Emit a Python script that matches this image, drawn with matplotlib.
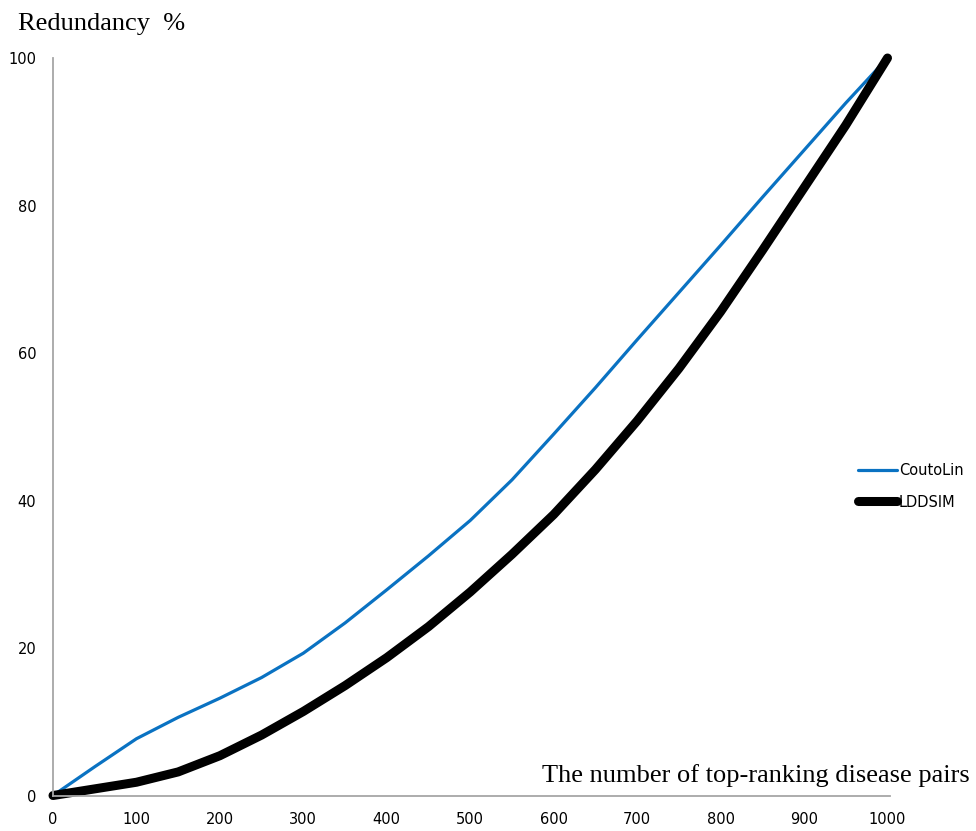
import matplotlib
matplotlib.use("Agg")
import matplotlib.pyplot as plt

# values
pairs = [0, 50, 100, 150, 200, 250, 300, 350, 400, 450, 500,
         550, 600, 650, 700, 750, 800, 850, 900, 950, 1000]
coutolin = [0, 3.9, 7.7, 10.6, 13.2, 16.0, 19.3, 23.4, 27.9, 32.5, 37.3,
            42.8, 49.0, 55.3, 61.8, 68.2, 74.6, 81.1, 87.5, 93.9, 100]
lddsim = [0, 0.9, 1.8, 3.2, 5.4, 8.2, 11.4, 14.9, 18.7, 22.9, 27.6,
          32.7, 38.1, 44.2, 50.8, 57.9, 65.6, 73.9, 82.4, 90.9, 100]

x_ticks = list(range(0, 1001, 100))
y_ticks = [0, 20, 40, 60, 80, 100]

fig = plt.figure(figsize=(9.76, 8.31), dpi=100)
ax = fig.add_axes([0.0543, 0.0427, 0.8576, 0.8875])

ax.plot(pairs, coutolin, color='#0A72C2', lw=2.3, label='CoutoLin',
        solid_capstyle='round', solid_joinstyle='round', clip_on=False)
ax.plot(pairs, lddsim, color='black', lw=6.5, label='LDDSIM',
        solid_capstyle='round', solid_joinstyle='round', clip_on=False)

ax.set_xlim(0, 1003)
ax.set_ylim(0, 100)
ax.set_xticks(x_ticks)
ax.set_yticks(y_ticks)
ax.tick_params(length=0, labelsize=10.5)
ax.tick_params(axis='x', pad=12)
ax.tick_params(axis='y', pad=12)

for s in ['top', 'right']:
    ax.spines[s].set_visible(False)
for s in ['left', 'bottom']:
    ax.spines[s].set_color('#A6A6A6')
    ax.spines[s].set_linewidth(1.3)

fig.legend(loc='center left', bbox_to_anchor=(0.879, 0.415), frameon=False,
           handlelength=2.7, handletextpad=0.1, labelspacing=1.15,
           borderpad=0, borderaxespad=0, prop={'size': 10.5})

fig.text(0.018, 0.964, 'Redundancy  %', family='Liberation Serif', fontsize=19,
         va='baseline', ha='left')
fig.text(0.994, 0.059, 'The number of top-ranking disease pairs',
         family='Liberation Serif', fontsize=19, ha='right', va='baseline')

fig.savefig('out.png', dpi=100)
